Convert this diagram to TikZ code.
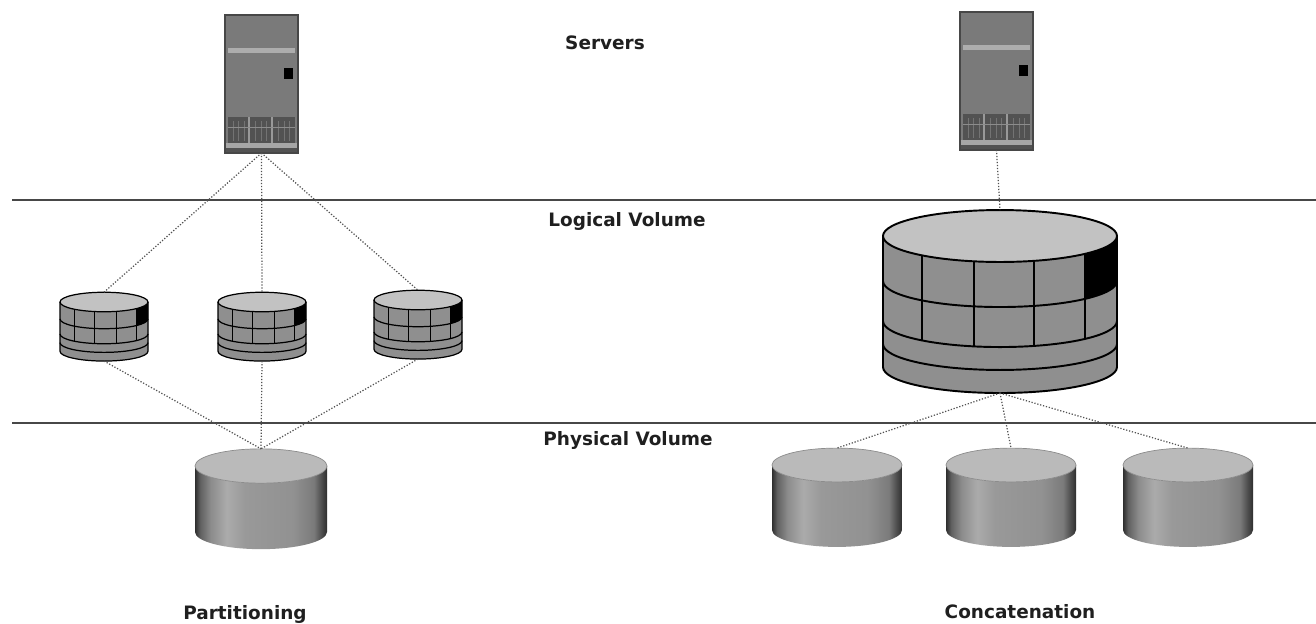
\documentclass[tikz,border=0pt]{standalone}
\usepackage{fontspec}
\setsansfont{DejaVu Sans}
\usepackage{tikz}

% side of a plain disk: dark rims, lighter streak left of the middle
\pgfdeclarehorizontalshading{drumside}{100bp}{color(0bp)=(black!82); color(25bp)=(black!82);
  color(27bp)=(black!62); color(31bp)=(black!45); color(37bp)=(black!33); color(44bp)=(black!40);
  color(62bp)=(black!43); color(70bp)=(black!52); color(73bp)=(black!70); color(75bp)=(black!82);
  color(100bp)=(black!82)}

\tikzset{
  rule/.style={black!72, line width=1.3pt},
  link/.style={black!68, densely dotted, line width=0.7pt},
  lbl/.style={font=\sffamily\bfseries\fontsize{10.5}{12}\selectfont, text=black!88},
  % tower server, origin at its top left corner
  pics/server/.style={code={
    \fill[black!52] (0,0) rectangle (73,138);
    \fill[black!32] (3,33) rectangle (70,38);
    \fill[black] (59,53) rectangle (68,64);
    \fill[black!68] (3,102) rectangle (70,128);
    \foreach \x in {24,47}
      \draw[black!40, line width=0.8pt] (\x,102) -- (\x,128);
    \foreach \x in {8,13,19,30,36,41,53,59,64}
      \draw[black!55, line width=0.3pt] (\x,106) -- (\x,126);
    \draw[black!45, line width=0.4pt] (3,112) -- (70,112);
    \fill[black!35] (0,128) rectangle (73,133);
    \fill[black!68] (0,133) rectangle (73,138);
    \draw[black!72, line width=0.6pt] (0,0) rectangle (73,138);
    \coordinate (-bot) at (36.5,138);
  }},
  % physical disk, radius 1, origin at the centre of its lid
  pics/pvdrum/.style={code={
    \shade[shading=drumside] (-1,0) -- (-1,1)
      arc[start angle=180, end angle=0, x radius=1, y radius=.26] -- (1,0)
      arc[start angle=0, end angle=180, x radius=1, y radius=.26] -- cycle;
    \fill[black!27] (0,0) ellipse[x radius=1, y radius=.26];
    \draw[black!45, line width=0.4pt] (0,0) ellipse[x radius=1, y radius=.26];
    \coordinate (-top) at (0,-.26);
  }},
  % logical volume split into extents, radius 1
  pics/lvdrum/.style={code={
    \fill[black!44] (-1,0) -- (-1,1.12)
      arc[start angle=180, end angle=0, x radius=1, y radius=.222] -- (1,0)
      arc[start angle=0, end angle=180, x radius=1, y radius=.222] -- cycle;
    \begin{scope}
      \clip (.73,-.5) rectangle (1.2,1.5);
      \fill[black] (-1,0) -- (-1,.385)
        arc[start angle=180, end angle=0, x radius=1, y radius=.222] -- (1,0)
        arc[start angle=0, end angle=180, x radius=1, y radius=.222] -- cycle;
    \end{scope}
    \fill[black!24] (0,0) ellipse[x radius=1, y radius=.222];
    \foreach \d in {.385,.727,.923}
      \draw (-1,\d) arc[start angle=180, end angle=0, x radius=1, y radius=.222];
    \draw (-.67,.165) -- (-.67,.892);
    \draw (-.22,.217) -- (-.22,.944);
    \draw (.29,.212) -- (.29,.939);
    \draw (.73,.152) -- (.73,.879);
    \draw (0,0) ellipse[x radius=1, y radius=.222];
    \draw (-1,0) -- (-1,1.12)
      arc[start angle=180, end angle=0, x radius=1, y radius=.222] -- (1,0);
    \coordinate (-top) at (0,-.222);
    \coordinate (-bot) at (0,1.342);
  }}
}

\begin{document}
\begin{tikzpicture}[x=0.02cm, y=-0.02cm]
  \useasboundingbox (0,0) rectangle (1316,623);
  \fill[white] (0,0) rectangle (1316,623);

  % layer rules
  \coordinate (ruleA-w) at (12,200);
  \coordinate (ruleA-e) at (1316,200);
  \coordinate (ruleB-w) at (12,423);
  \coordinate (ruleB-e) at (1316,423);
  \draw[rule] (ruleA-w) -- (ruleA-e);
  \draw[rule] (ruleB-w) -- (ruleB-e);

  % layer names
  \node[lbl] (servers) at (605,43) {Servers};
  \node[lbl] (logical) at (627,221) {Logical Volume};
  \node[lbl] (physical) at (628,440) {Physical Volume};

  % left: one disk cut into three volumes
  \pic (srvL) at (225,15) {server};
  \pic[line width=0.7pt, scale=44] (lvA) at (104,302) {lvdrum};
  \pic[line width=0.7pt, scale=44] (lvB) at (262,302) {lvdrum};
  \pic[line width=0.7pt, scale=44] (lvC) at (418,300) {lvdrum};
  \pic[scale=66] (pvL) at (261,466) {pvdrum};

  \foreach \v in {lvA,lvB,lvC} {
    \draw[link] (srvL-bot) -- (\v-top);
    \draw[link] (\v-bot) -- (pvL-top);
  }

  % right: three disks joined into one volume
  \pic (srvR) at (960,12) {server};
  \pic[line width=1.1pt, scale=117] (lvBig) at (1000,236) {lvdrum};
  \pic[scale=65] (pvA) at (837,465) {pvdrum};
  \pic[scale=65] (pvB) at (1011,465) {pvdrum};
  \pic[scale=65] (pvC) at (1188,465) {pvdrum};

  \draw[link] (srvR-bot) -- (lvBig-top);
  \foreach \p in {pvA,pvB,pvC}
    \draw[link] (lvBig-bot) -- (\p-top);

  \node[lbl] (part) at (245,614) {Partitioning};
  \node[lbl] (concat) at (1020,612) {Concatenation};
\end{tikzpicture}
\end{document}
